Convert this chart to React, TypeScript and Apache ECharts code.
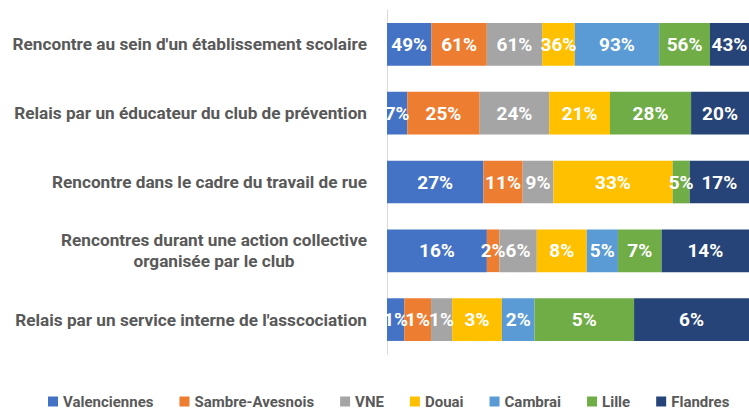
import React, { useEffect, useRef } from "react";
import * as echarts from "echarts";

const categories = [
  "Rencontre au sein d'un établissement scolaire",
  "Relais par un éducateur du club de prévention",
  "Rencontre dans le cadre du travail de rue",
  "Rencontres durant une action collective\norganisée par le club",
  "Relais par un service interne de l'asscociation",
];

const seriesNames = ["Valenciennes", "Sambre-Avesnois", "VNE", "Douai", "Cambrai", "Lille", "Flandres"];
const colors = ["#4472C4", "#ED7D31", "#A5A5A5", "#FFC000", "#5B9BD5", "#70AD47", "#264478"];

const valenciennes = [49, 7, 27, 16, 0.9];
const sambreAvesnois = [61, 25, 11, 2, 1.4];
const vne = [61, 24, 8.6, 6, 1.1];
const douai = [36, 21, 33.4, 8, 2.6];
const cambrai: (number | null)[] = [93, null, null, 5, 1.7];
const lille = [56, 28, 4.8, 7, 5.2];
const flandres = [43, 20, 16.6, 14, 6.0];

const allSeries: (number | null)[][] = [valenciennes, sambreAvesnois, vne, douai, cambrai, lille, flandres];

const FONT = "Roboto, 'Noto Sans', sans-serif";
const TEXT_COLOR = "#595959";

export default function App() {
  const ref = useRef<HTMLDivElement>(null);
  useEffect(() => {
    if (!ref.current) return;
    const chart = echarts.init(ref.current, undefined, { renderer: "svg" });
    const rowSums = categories.map((_, i) =>
      allSeries.reduce((s, arr) => s + (arr[i] ?? 0), 0)
    );
    const series = allSeries.map((arr, si) => ({
      name: seriesNames[si],
      type: "bar",
      stack: "total",
      barWidth: "62%",
      itemStyle: { color: colors[si] },
      data: arr.map((v, i) => (v == null ? null : { value: (v / rowSums[i]) * 100, raw: v })),
      label: {
        show: true,
        position: "inside",
        color: "#ffffff",
        fontFamily: FONT,
        fontWeight: "bold",
        fontSize: 19,
        formatter: (p: any) => (p.data && p.data.raw != null ? Math.round(p.data.raw) + "%" : ""),
      },
    }));
    chart.setOption({
      animation: false,
      grid: { left: 387, right: 0, top: 10, bottom: 56, containLabel: false, outerBoundsMode: "none" },
      xAxis: { type: "value", min: 0, max: 100, show: false },
      yAxis: {
        type: "category",
        data: categories,
        inverse: true,
        axisTick: { show: false },
        axisLine: { show: true, lineStyle: { color: "#d9d9d9", width: 1 } },
        axisLabel: {
          margin: 20,
          color: TEXT_COLOR,
          fontFamily: FONT,
          fontWeight: "bold",
          fontSize: 17.2,
          formatter: (v: string) =>
            v
              .split("\n")
              .map((l) => `{c|${l}}`)
              .join("\n"),
          rich: {
            c: {
              align: "center",
              color: TEXT_COLOR,
              fontFamily: FONT,
              fontWeight: "bold",
              fontSize: 17.2,
              lineHeight: 21,
            },
          },
        },
      },
      legend: {
        data: seriesNames,
        top: 389,
        left: 43,
        width: 720,
        icon: "rect",
        itemWidth: 10,
        itemHeight: 10,
        itemGap: 26,
        textStyle: { color: TEXT_COLOR, fontFamily: FONT, fontWeight: "bold", fontSize: 15 },
      },
      series,
    });
    return () => chart.dispose();
  }, []);
  return (
    <div
      ref={ref}
      style={{ position: "fixed", left: 0, top: 0, width: 749, height: 410, background: "#fff" }}
    />
  );
}
